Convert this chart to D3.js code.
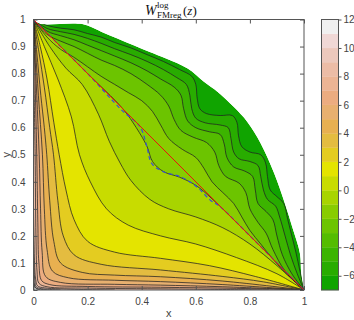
<!DOCTYPE html>
<html>
<head>
<meta charset="utf-8">
<script src="https://cdn.jsdelivr.net/npm/d3@7"></script>
<style>
  body { margin: 0; background: #fff; }
  text { font-family: "Liberation Sans", Arial, sans-serif; }
</style>
</head>
<body>
<div class="chart"></div>
<script>
// contour levels, each band is [level, level+1]
var levels = [-7,-6,-5,-4,-3,-2,-1,0,1,2,3,4,5,6,7,8,9,10,11,12];
var bandColors = ["#10a400","#28ac00","#3cb400","#54bc00","#6cc400","#88cc00","#a8d400","#c8dc00",
                  "#e4e400","#e4cc20","#e4bc40","#e8b050","#e8b070","#ecac80","#ecb494","#ecbca6",
                  "#ecc8bc","#f0d8d6","#f0f0f0","#f4f4f4"];

// contour lines, running from (0,1) round to (1,0)
var lineM7 = [[0,1],[0.02,0.985],[0.18,0.983],[0.25,0.955],[0.31,0.93],[0.37,0.905],[0.43,0.88],[0.49,0.856],
              [0.57,0.819],[0.63,0.77],[0.68,0.733],[0.74,0.677],[0.79,0.622],[0.84,0.542],[0.89,0.431],
              [0.925,0.333],[0.96,0.222],[0.985,0.135],[0.99,0.06],[1,0]];
var lineM6 = [[0,1],[0.05,0.978],[0.1,0.968],[0.15,0.962],[0.2,0.948],[0.25,0.935],[0.3,0.915],[0.36,0.895],
              [0.42,0.87],[0.48,0.845],[0.54,0.815],[0.585,0.79],[0.6,0.76],[0.605,0.71],[0.615,0.67],
              [0.64,0.652],[0.69,0.645],[0.735,0.645],[0.752,0.62],[0.758,0.57],[0.77,0.53],[0.8,0.51],
              [0.84,0.5],[0.858,0.47],[0.865,0.42],[0.875,0.37],[0.9,0.345],[0.925,0.32],[0.94,0.26],
              [0.955,0.2],[0.97,0.14],[0.985,0.07],[1,0]];
var lineM5 = [[0,1],[0.05,0.967],[0.1,0.955],[0.15,0.945],[0.2,0.93],[0.25,0.912],[0.3,0.892],[0.36,0.87],
              [0.42,0.845],[0.48,0.815],[0.53,0.785],[0.565,0.76],[0.578,0.72],[0.585,0.67],[0.6,0.635],
              [0.635,0.618],[0.69,0.61],[0.72,0.6],[0.73,0.56],[0.74,0.51],[0.76,0.485],[0.8,0.475],
              [0.83,0.46],[0.84,0.42],[0.85,0.37],[0.865,0.335],[0.895,0.31],[0.91,0.27],[0.93,0.2],
              [0.95,0.13],[0.975,0.06],[1,0]];
var lineM4 = [[0,1],[0.05,0.957],[0.1,0.94],[0.15,0.925],[0.2,0.905],[0.25,0.885],[0.3,0.865],[0.36,0.84],
              [0.42,0.81],[0.47,0.78],[0.52,0.75],[0.545,0.72],[0.555,0.67],[0.57,0.625],[0.6,0.6],
              [0.65,0.585],[0.69,0.575],[0.705,0.54],[0.715,0.49],[0.74,0.455],[0.78,0.44],[0.81,0.42],
              [0.82,0.37],[0.83,0.32],[0.86,0.29],[0.885,0.26],[0.9,0.2],[0.92,0.13],[0.955,0.06],[1,0]];
var lineM3 = [[0,1],[0.05,0.945],[0.1,0.92],[0.15,0.9],[0.2,0.875],[0.25,0.85],[0.3,0.83],[0.36,0.8],
              [0.42,0.76],[0.47,0.72],[0.5,0.68],[0.52,0.63],[0.545,0.59],[0.59,0.565],[0.64,0.545],
              [0.67,0.51],[0.685,0.46],[0.71,0.42],[0.76,0.395],[0.785,0.36],[0.8,0.3],[0.83,0.25],
              [0.86,0.21],[0.885,0.15],[0.93,0.07],[1,0]];
var lineM2 = [[0,1],[0.05,0.935],[0.1,0.89],[0.15,0.86],[0.2,0.825],[0.25,0.79],[0.3,0.76],[0.35,0.73],
              [0.4,0.7],[0.44,0.66],[0.47,0.61],[0.5,0.56],[0.55,0.52],[0.6,0.49],[0.63,0.45],[0.66,0.4],
              [0.7,0.36],[0.74,0.32],[0.77,0.27],[0.8,0.22],[0.84,0.17],[0.88,0.12],[0.93,0.065],[1,0]];
var lineM1 = [[0,1],[0.1,0.9],[0.2,0.8],[0.33,0.67],[0.38,0.6],[0.42,0.53],[0.44,0.475],[0.48,0.438],
              [0.54,0.417],[0.6,0.387],[0.66,0.337],[0.75,0.25],[0.9,0.1],[1,0]];
var line0  = [[0,1],[0.06,0.9],[0.12,0.82],[0.18,0.76],[0.24,0.65],[0.28,0.55],[0.32,0.47],[0.36,0.405],
              [0.43,0.335],[0.5,0.3],[0.6,0.27],[0.7,0.23],[0.8,0.17],[0.9,0.09],[1,0]];
var line1  = [[0,1],[0.04,0.9],[0.09,0.78],[0.14,0.64],[0.17,0.5],[0.21,0.4],[0.27,0.3],[0.35,0.24],
              [0.47,0.2],[0.6,0.17],[0.75,0.12],[0.9,0.06],[1,0]];
var line2  = [[0,1],[0.025,0.9],[0.05,0.78],[0.075,0.62],[0.095,0.5],[0.12,0.37],[0.15,0.26],[0.2,0.18],
              [0.3,0.14],[0.47,0.117],[0.65,0.09],[0.82,0.05],[1,0]];
var line3  = [[0,1],[0.02,0.88],[0.04,0.75],[0.06,0.6],[0.074,0.5],[0.09,0.33],[0.11,0.2],[0.15,0.13],
              [0.25,0.095],[0.47,0.074],[0.7,0.05],[0.85,0.03],[1,0]];
var line4  = [[0,1],[0.012,0.88],[0.027,0.72],[0.04,0.6],[0.049,0.5],[0.06,0.33],[0.075,0.18],[0.1,0.1],
              [0.18,0.065],[0.3,0.055],[0.47,0.049],[0.7,0.033],[1,0]];
var line5  = [[0,1],[0.008,0.88],[0.018,0.72],[0.033,0.5],[0.04,0.3],[0.05,0.15],[0.07,0.07],[0.13,0.045],
              [0.3,0.036],[0.47,0.031],[0.7,0.02],[1,0]];
var line6  = [[0,1],[0.005,0.88],[0.012,0.72],[0.021,0.5],[0.026,0.3],[0.032,0.14],[0.045,0.05],[0.1,0.028],
              [0.3,0.021],[0.47,0.018],[0.7,0.012],[1,0]];
var line7  = [[0,1],[0.004,0.85],[0.012,0.5],[0.016,0.25],[0.02,0.1],[0.03,0.035],[0.06,0.02],[0.2,0.013],
              [0.47,0.01],[0.75,0.006],[1,0]];
var line8  = [[0,0.86],[0.006,0.5],[0.009,0.2],[0.013,0.07],[0.02,0.025],[0.05,0.012],[0.2,0.007],
              [0.5,0.004],[0.87,0]];
var line9  = [[0,0.3],[0.004,0.1],[0.008,0.04],[0.015,0.015],[0.04,0.008],[0.1,0.004],[0.3,0]];
var line10 = [[0,0.12],[0.005,0.035],[0.01,0.012],[0.03,0.005],[0.1,0]];
var line11 = [[0,0.05],[0.004,0.018],[0.008,0.008],[0.018,0.004],[0.05,0]];
var line12 = [[0,0.025],[0.005,0.01],[0.01,0.005],[0.025,0]];
var contourLines = [lineM7,lineM6,lineM5,lineM4,lineM3,lineM2,lineM1,line0,line1,line2,line3,
                    line4,line5,line6,line7,line8,line9,line10,line11,line12];

// blue dashed curve
var dashedCurve = [[0,1],[0.1,0.9],[0.2,0.8],[0.326,0.665],[0.394,0.603],[0.419,0.53],[0.437,0.468],
                   [0.48,0.437],[0.542,0.419],[0.603,0.382],[0.653,0.333],[0.69,0.308],[0.8,0.2],[1,0]];
var xTicks = [0,0.2,0.4,0.6,0.8,1];
var yTicks = [0,0.1,0.2,0.3,0.4,0.5,0.6,0.7,0.8,0.9,1];
var cbTicks = [-6,-4,-2,0,2,4,6,8,10,12];

var width = 354, height = 320;
var svg = d3.select(".chart").append("svg").attr("width", width).attr("height", height);

var x = d3.scaleLinear().domain([0,1]).range([33.5,304]);
var y = d3.scaleLinear().domain([0,1]).range([290,19.5]);

var lineGen = d3.line().x(function(d){return x(d[0]);}).y(function(d){return y(d[1]);})
                .curve(d3.curveCatmullRom.alpha(0.5));

var defs = svg.append("defs");
defs.append("clipPath").attr("id","plotclip").append("rect")
    .attr("x", x(0)).attr("y", y(1)).attr("width", x(1)-x(0)).attr("height", y(0)-y(1));
defs.append("clipPath").attr("id","domclip").append("path")
    .attr("d", lineGen(lineM7) + "L" + x(0) + "," + y(0) + "Z");

var plot = svg.append("g").attr("clip-path","url(#plotclip)");
var inner = plot.append("g").attr("clip-path","url(#domclip)");

// filled bands, lowest level first
contourLines.forEach(function(pts, i){
  inner.append("path")
       .attr("d", lineGen(pts) + "L" + x(0) + "," + y(0) + "Z")
       .attr("fill", bandColors[i]).attr("stroke", "none");
});
// contour lines (the -7 edge gets none)
contourLines.forEach(function(pts, i){
  if(i === 0) return;
  inner.append("path").attr("d", lineGen(pts)).attr("fill","none")
       .attr("stroke","#222").attr("stroke-width",0.75);
});

// red line x+y=1 and blue dashed curve
plot.append("line").attr("x1", x(0)).attr("y1", y(1)).attr("x2", x(1)).attr("y2", y(0))
    .attr("stroke","#e8140c").attr("stroke-width",1);
inner.append("path").attr("d", lineGen(dashedCurve)).attr("fill","none")
     .attr("stroke","#3a4fd6").attr("stroke-width",1.2).attr("stroke-dasharray","4,3");

// frame and ticks
var axisColor = "#555";
svg.append("rect").attr("x", x(0)).attr("y", y(1)).attr("width", x(1)-x(0)).attr("height", y(0)-y(1))
   .attr("fill","none").attr("stroke", axisColor).attr("stroke-width",1);

function styleAxis(g, showLabels){
  g.select(".domain").remove();
  g.selectAll(".tick line").attr("stroke", axisColor);
  g.selectAll(".tick text").attr("fill","#444").style("font-size","10px")
   .style("display", showLabels ? null : "none");
}
svg.append("g").attr("transform","translate(0," + y(0) + ")")
   .call(d3.axisBottom(x).tickValues(xTicks).tickSize(-4).tickPadding(8).tickFormat(d3.format("")))
   .call(styleAxis, true);
svg.append("g").attr("transform","translate(0," + y(1) + ")")
   .call(d3.axisTop(x).tickValues(xTicks).tickSize(-4))
   .call(styleAxis, false);
svg.append("g").attr("transform","translate(" + x(0) + ",0)")
   .call(d3.axisLeft(y).tickValues(yTicks).tickSize(-4).tickPadding(8).tickFormat(d3.format("")))
   .call(styleAxis, true);
svg.append("g").attr("transform","translate(" + x(1) + ",0)")
   .call(d3.axisRight(y).tickValues(yTicks).tickSize(-4))
   .call(styleAxis, false);

svg.append("text").attr("x", (x(0)+x(1))/2).attr("y", 317).attr("text-anchor","middle")
   .attr("fill","#444").style("font-size","11px").text("x");
svg.append("text").attr("transform","translate(10," + ((y(0)+y(1))/2) + ") rotate(-90)")
   .attr("text-anchor","middle").attr("fill","#444").style("font-size","11px").text("y");

// title W^log_FMreg(z)
var title = svg.append("g").attr("fill","#111");
title.append("text").attr("x",145).attr("y",15).style("font-size","14px").style("font-style","italic")
     .style("font-family","'Liberation Serif',serif").text("W");
title.append("text").attr("x",157).attr("y",7.5).style("font-size","9px")
     .style("font-family","'Liberation Serif',serif").text("log");
title.append("text").attr("x",157).attr("y",18).style("font-size","9px")
     .style("font-family","'Liberation Serif',serif").text("FMreg");
var tz = title.append("text").attr("x",183).attr("y",15).style("font-size","13px")
     .style("font-family","'Liberation Serif',serif");
tz.append("tspan").text("(");
tz.append("tspan").style("font-style","italic").text("z");
tz.append("tspan").text(")");

// colorbar
var cy = d3.scaleLinear().domain([-7,12]).range([290,19.5]);
var cb = svg.append("g");
levels.slice(0, 19).forEach(function(l, i){
  cb.append("rect").attr("x",321.5).attr("width",17)
    .attr("y", cy(l + 1)).attr("height", cy(l) - cy(l + 1))
    .attr("fill", bandColors[i]).attr("stroke", bandColors[i]).attr("stroke-width",0.3);
});
cb.append("rect").attr("x",321.5).attr("y",cy(12)).attr("width",17).attr("height",cy(-7)-cy(12))
  .attr("fill","none").attr("stroke",axisColor).attr("stroke-width",1);
svg.append("g").attr("transform","translate(338.5,0)")
   .call(d3.axisRight(cy).tickValues(cbTicks).tickSize(3).tickPadding(2))
   .call(styleAxis, true);
</script>
</body>
</html>
